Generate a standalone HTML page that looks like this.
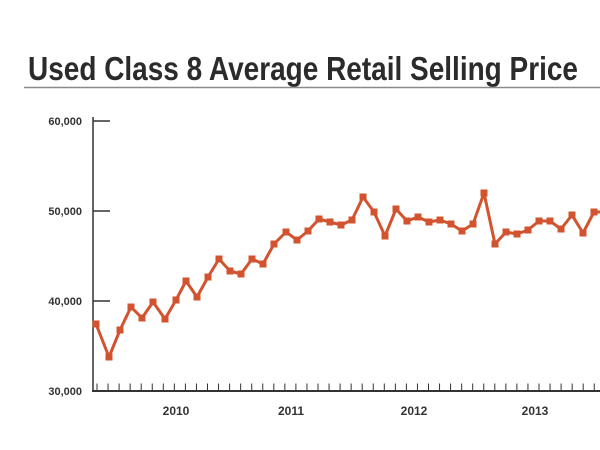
<!DOCTYPE html>
<html><head><meta charset="utf-8"><style>html,body{margin:0;padding:0;background:#fff}svg{display:block}</style></head>
<body>
<svg width="600" height="450" xmlns="http://www.w3.org/2000/svg">
<defs>
<marker id="sq" markerUnits="userSpaceOnUse" markerWidth="7" markerHeight="7" refX="3.5" refY="3.5" viewBox="0 0 7 7">
<rect width="7" height="7" fill="#d2532f"/>
</marker>
</defs>
<rect width="600" height="450" fill="#fff"/>
<text x="28" y="80" font-family="Liberation Sans Narrow, Liberation Sans, sans-serif" font-weight="bold" font-size="33" fill="#2b2b2b" textLength="550" lengthAdjust="spacingAndGlyphs">Used Class 8 Average Retail Selling Price</text>
<line x1="24" y1="87.5" x2="600" y2="87.5" stroke="#8a8a8a" stroke-width="1.5"/>
<g font-family="Liberation Sans, sans-serif" font-weight="bold" font-size="11" fill="#333" text-anchor="end">
<text x="82" y="125">60,000</text>
<text x="82" y="215">50,000</text>
<text x="82" y="305">40,000</text>
<text x="82" y="395">30,000</text>
</g>
<g stroke="#333" stroke-width="1.5">
<line x1="93" y1="117" x2="93" y2="392"/>
<line x1="92" y1="391" x2="600" y2="391" stroke-width="2"/>
<line x1="93" y1="121" x2="110" y2="121"/>
<line x1="93" y1="211" x2="110" y2="211"/>
<line x1="93" y1="301" x2="110" y2="301"/>
</g>
<line x1="96.5" y1="387" x2="600" y2="387" stroke="#333" stroke-width="7" stroke-dasharray="1 10.05"/>
<g font-family="Liberation Sans, sans-serif" font-weight="bold" font-size="12" fill="#333" text-anchor="middle">
<text x="176" y="415">2010</text>
<text x="291" y="415">2011</text>
<text x="414" y="415">2012</text>
<text x="535" y="415">2013</text>
</g>
<polyline fill="none" stroke="#d2532f" stroke-width="3" stroke-linejoin="round" marker-start="url(#sq)" marker-mid="url(#sq)" points="96,324 109,357 120,330 131,307 142,318 153,302 165,319 176,300 186,281 197,297 208,277 219,259 230,271 241,274 252,259 263,264 274,244 286,232 297,240 308,231 319,219 330,222 341,225 352,220 363,197 374,212 385,236 396,209 407,221 418,217 429,222 440,220 451,224 462,231 473,224 484,193 495,244 506,232 517,234 528,230 539,221 550,221 561,229 572,215 583,233 594,212 604,212"/>
</svg>
</body></html>
